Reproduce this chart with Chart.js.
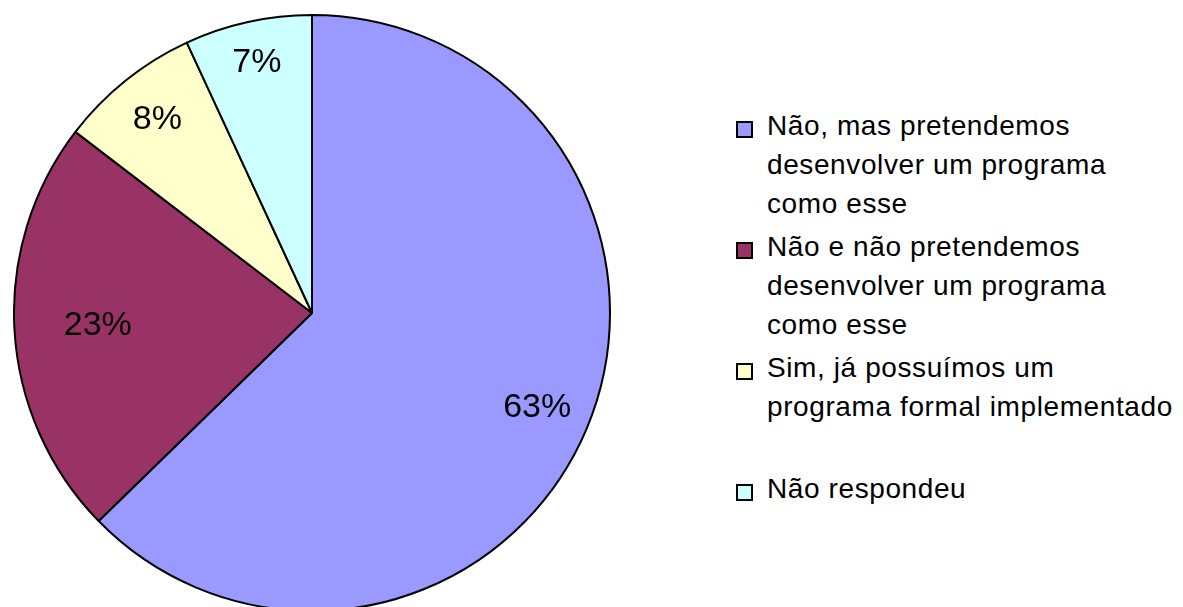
<!DOCTYPE html>
<html>
<head>
<meta charset="utf-8">
<script src="https://cdn.jsdelivr.net/npm/chart.js@4/dist/chart.umd.min.js"></script>
<style>
    html, body {
        margin: 0;
        padding: 0;
        width: 1183px;
        height: 607px;
        overflow: hidden;
        background: #ffffff;
    }

    #pieBox {
        position: absolute;
        left: 13px;
        top: 14px;
        width: 598px;
        height: 598px;
    }

    #legend {
        position: absolute;
        left: 736px;
        top: 106px;
        font-family: "Liberation Sans", Arial, sans-serif;
        font-size: 28px;
        letter-spacing: 0.6px;
        line-height: 39px;
        color: #000;
    }

    .leg-item {
        position: relative;
        height: 121px;
        padding-left: 31px;
        white-space: nowrap;
    }

    .leg-box {
        position: absolute;
        left: 0;
        top: 15px;
        width: 17px;
        height: 17px;
        box-sizing: border-box;
        border: 2px solid #000;
    }
</style>
</head>
<body>

<div id="pieBox"><canvas id="pieChart"></canvas></div>
<div id="legend"></div>

<script>

/* ---------------- DATA ---------------- */

const categories = [
    ["Não, mas pretendemos", "desenvolver um programa", "como esse"],
    ["Não e não pretendemos", "desenvolver um programa", "como esse"],
    ["Sim, já possuímos um", "programa formal implementado"],
    ["Não respondeu"]
];

const shares = [62.7, 22.7, 7.7, 6.9];

const sliceColors = ["#9999FF", "#993366", "#FFFFCC", "#CCFFFF"];

/* ---------------- LABELS ON SLICES ---------------- */

const labelRadius = [0.82, 0.72, 0.83, 0.86];

const sliceLabels = {
    id: "sliceLabels",
    afterDatasetsDraw(chart) {

        const ctx = chart.ctx;
        const meta = chart.getDatasetMeta(0);

        ctx.save();
        ctx.font = '34px "Liberation Sans", Arial, sans-serif';
        ctx.fillStyle = "#000";
        ctx.textAlign = "center";
        ctx.textBaseline = "middle";

        meta.data.forEach((arc, i) => {
            const p = arc.getProps(["x", "y", "startAngle", "endAngle", "outerRadius"], true);
            const mid = (p.startAngle + p.endAngle) / 2;
            const r = p.outerRadius * labelRadius[i];
            const text = Math.round(shares[i]) + "%";
            ctx.fillText(text, p.x + Math.cos(mid) * r, p.y + Math.sin(mid) * r);
        });

        ctx.restore();
    }
};

/* ---------------- CHART ---------------- */

function initChart() {

    const pieCtx = document.getElementById("pieChart");

    new Chart(pieCtx, {
        type: "pie",
        data: {
            labels: categories.map(c => c.join(" ")),
            datasets: [{
                data: shares,
                backgroundColor: sliceColors,
                borderColor: "#000000",
                borderWidth: 2
            }]
        },
        options: {
            maintainAspectRatio: false,
            animation: false,
            plugins: {
                legend: { display: false },
                tooltip: { enabled: false }
            }
        },
        plugins: [sliceLabels]
    });

}

/* ---------------- LEGEND ---------------- */

function buildLegend() {

    const box = document.getElementById("legend");

    categories.forEach((lines, i) => {
        box.innerHTML += `
<div class="leg-item">
<span class="leg-box" style="background:${sliceColors[i]}"></span>
${lines.join("<br>")}
</div>
`;
    });

}

buildLegend();
initChart();

</script>
</body>
</html>
